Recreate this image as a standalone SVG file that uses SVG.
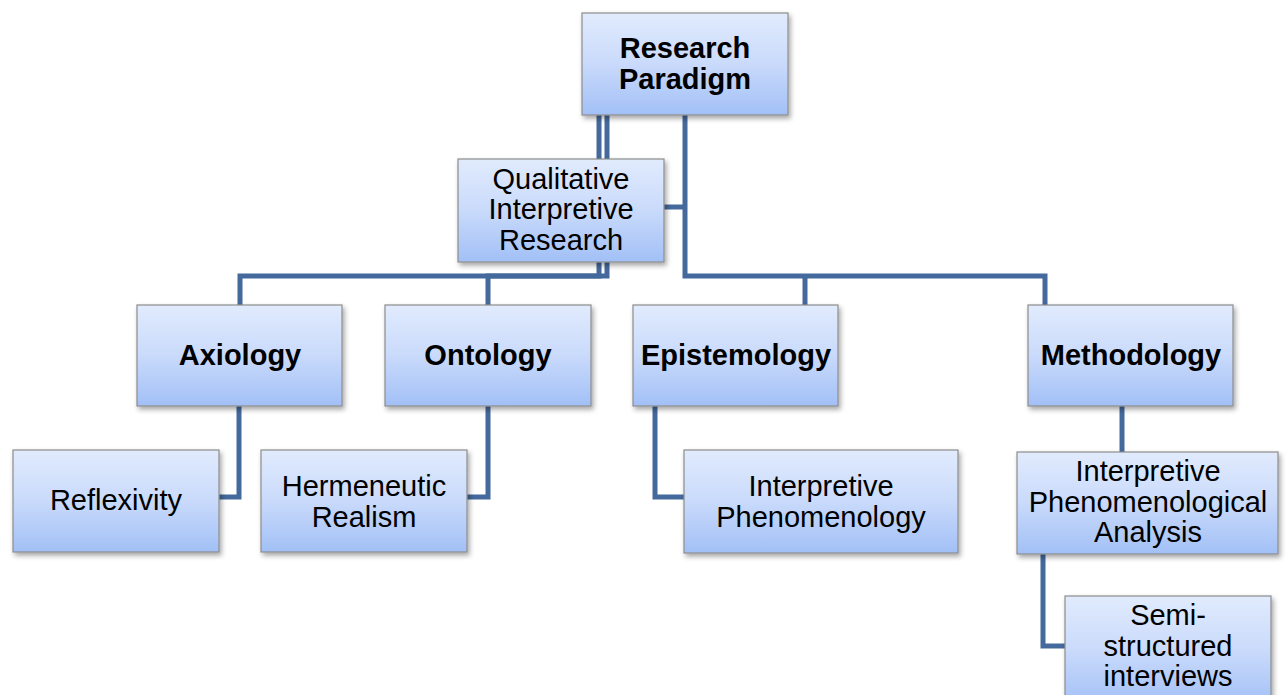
<svg xmlns="http://www.w3.org/2000/svg" width="1286" height="695" viewBox="0 0 1286 695">
<defs>
<linearGradient id="g" x1="0" y1="0" x2="0" y2="1">
<stop offset="0" stop-color="#e1ebfd"/>
<stop offset="0.5" stop-color="#c9dafb"/>
<stop offset="1" stop-color="#a2c0f6"/>
</linearGradient>
<filter id="sh" x="-10%" y="-10%" width="125%" height="130%">
<feDropShadow dx="2" dy="3" stdDeviation="2.5" flood-color="#000" flood-opacity="0.35"/>
</filter>
</defs>
<style>
.box{fill:url(#g);stroke:#8c8c8c;stroke-width:1.2;filter:url(#sh)}
.t{font-family:"Liberation Sans",Arial,sans-serif;font-size:29px;fill:#000;text-anchor:middle}
.b{font-weight:bold}
.c{fill:none;stroke:#44699c;stroke-width:5}
</style>
<rect width="1286" height="695" fill="#fff"/>
<g id="connectors">
<path class="c" d="M599,115 V276 H488 V305"/>
<path class="c" d="M607,115 V276 H240 V305"/>
<path class="c" d="M685,115 V276 H1045 V305"/>
<path class="c" d="M805,276 V305"/>
<path class="c" d="M664,207 H685"/>
<path class="c" d="M239,406 V497 H219"/>
<path class="c" d="M488,406 V497 H467"/>
<path class="c" d="M655,406 V497 H684"/>
<path class="c" d="M1122,406 V452"/>
<path class="c" d="M1043,554 V646 H1065"/>
</g>
<g id="research-paradigm">
<rect class="box" x="582" y="13" width="206" height="102"/>
<text class="t b" x="685" y="58">Research</text>
<text class="t b" x="685" y="89">Paradigm</text>
</g>
<g id="qualitative">
<rect class="box" x="458" y="159" width="206" height="103"/>
<text class="t" x="561" y="189">Qualitative</text>
<text class="t" x="561" y="219">Interpretive</text>
<text class="t" x="561" y="250">Research</text>
</g>
<g id="axiology">
<rect class="box" x="137" y="305" width="205" height="101"/>
<text class="t b" x="240" y="365">Axiology</text>
</g>
<g id="ontology">
<rect class="box" x="385" y="305" width="206" height="101"/>
<text class="t b" x="488" y="365">Ontology</text>
</g>
<g id="epistemology">
<rect class="box" x="633" y="305" width="205" height="101"/>
<text class="t b" x="736" y="365">Epistemology</text>
</g>
<g id="methodology">
<rect class="box" x="1028" y="305" width="205" height="101"/>
<text class="t b" x="1131" y="365">Methodology</text>
</g>
<g id="reflexivity">
<rect class="box" x="13" y="450" width="206" height="102"/>
<text class="t" x="116" y="510">Reflexivity</text>
</g>
<g id="hermeneutic">
<rect class="box" x="261" y="450" width="206" height="102"/>
<text class="t" x="364" y="496">Hermeneutic</text>
<text class="t" x="364" y="527">Realism</text>
</g>
<g id="interp-phen">
<rect class="box" x="684" y="450" width="274" height="103"/>
<text class="t" x="821" y="496">Interpretive</text>
<text class="t" x="821" y="527">Phenomenology</text>
</g>
<g id="ipa">
<rect class="box" x="1017" y="452" width="261" height="102"/>
<text class="t" x="1148" y="481">Interpretive</text>
<text class="t" x="1148" y="512">Phenomenological</text>
<text class="t" x="1148" y="542">Analysis</text>
</g>
<g id="semi">
<rect class="box" x="1065" y="596" width="206" height="110"/>
<text class="t" x="1168" y="625">Semi-</text>
<text class="t" x="1168" y="656">structured</text>
<text class="t" x="1168" y="686">interviews</text>
</g>
</svg>
